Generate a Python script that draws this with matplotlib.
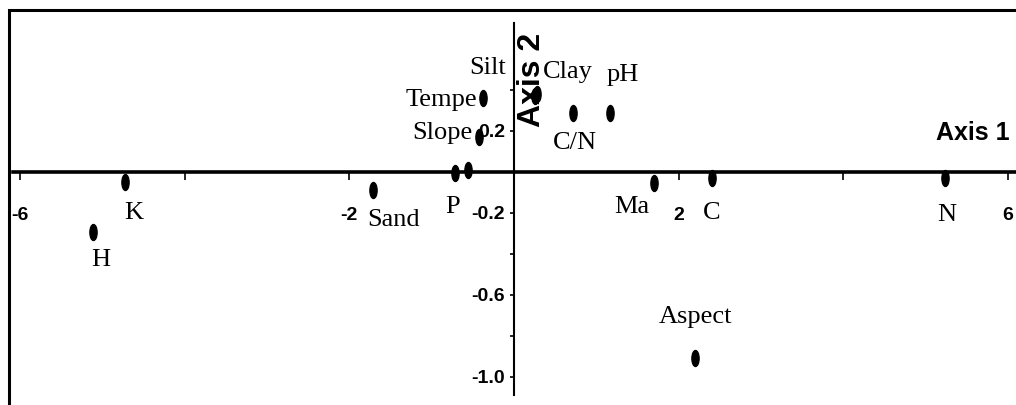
import numpy as np
import matplotlib.pyplot as plt
from matplotlib.path import Path
from matplotlib.transforms import Affine2D
from matplotlib.patches import Rectangle

plt.rcParams['axes.unicode_minus'] = False

# ordination scores
names = ['H', 'K', 'Sand', 'P', '', 'Slope', 'Tempe', 'Silt', 'Clay',
         'C/N', 'pH', 'Ma', 'C', 'N', 'Aspect']
axis1 = [-5.11, -4.72, -1.71, -0.72, -0.56, -0.43, -0.38, 0.26, 0.28,
         0.72, 1.17, 1.70, 2.40, 5.24, 2.20]
axis2 = [-0.295, -0.051, -0.09, -0.007, 0.006, 0.17, 0.36, 0.37, 0.38,
         0.285, 0.285, -0.056, -0.03, -0.03, -0.91]

xtick_major = [-6, -2, 2, 6]
xtick_labels = ['-6', '-2', '2', '6']
xtick_minor = [-4, 4]
ytick_major = [0.2, -0.2, -0.6, -1.0]
ytick_labels = ['0.2', '-0.2', '-0.6', '-1.0']
ytick_minor = [0.4, -0.4, -0.8]

# label placement (pixels from the dot, alignment)
label_pos = {
    'H': (7, -28, 'center'), 'K': (8, -31, 'center'),
    'Sand': (20, -30, 'center'), 'P': (-2, -34, 'center'),
    'Slope': (-6, 4, 'right'), 'Tempe': (-6, -2, 'right'),
    'Silt': (-29, 28, 'right'), 'Clay': (6, 22, 'left'),
    'C/N': (2, -30, 'center'), 'pH': (12, 38, 'center'),
    'Ma': (-5, -24, 'right'), 'C': (0, -35, 'center'),
    'N': (1, -37, 'center'), 'Aspect': (0, 41, 'center'),
}

serif = ['Liberation Serif', 'DejaVu Serif']
narrow = ['Liberation Sans Narrow', 'Liberation Sans', 'DejaVu Sans']

fig = plt.figure(figsize=(10.16, 4.05), dpi=100)
ax = fig.add_axes([9 / 1016, -25 / 405, 1031 / 1016, 420 / 405])
ax.set_xlim(-6.134, 6.389)
ax.set_ylim(-1.261, 0.788)

# dots are squashed ellipses like in the source
dot = Affine2D().scale(0.45, 1.0).transform_path(Path.unit_circle())
ax.plot(axis1, axis2, linestyle='none', marker=dot, markersize=11.5,
        color='black', zorder=3)

for name, x, y in zip(names, axis1, axis2):
    if name not in label_pos:
        continue
    dx, dy, ha = label_pos[name]
    ax.annotate(name, (x, y), xytext=(dx, dy), textcoords='offset pixels',
                ha=ha, va='center', fontsize=19, family=serif, zorder=4)

# crossing axes
for side in ['top', 'right']:
    ax.spines[side].set_visible(False)
ax.spines['left'].set_position(('data', 0))
ax.spines['bottom'].set_position(('data', 0))
ax.spines['left'].set_bounds(-1.09, 0.724)
ax.spines['bottom'].set_bounds(-6.085, 6.389)
ax.spines['bottom'].set_linewidth(2.6)
ax.spines['left'].set_linewidth(1.5)

ax.set_xticks(xtick_major)
ax.set_xticklabels(xtick_labels)
ax.set_xticks(xtick_minor, minor=True)
ax.set_yticks(ytick_major)
ax.set_yticklabels(ytick_labels)
ax.set_yticks(ytick_minor, minor=True)
ax.tick_params(axis='x', which='both', direction='out', length=5.8, width=1.2, pad=20)
ax.tick_params(axis='y', which='both', direction='out', length=3, width=1.2, pad=3.5)
for lab in ax.get_xticklabels() + ax.get_yticklabels():
    lab.set_family(narrow)
    lab.set_fontweight('bold')
    lab.set_fontsize(14)

# axis names, kept inside the picture
fig.text(1010 / 1016, 1 - 133 / 405, 'Axis 1', ha='right', va='center',
         fontsize=18, fontweight='bold', family=narrow)
ax.text(0.22, 0.446, 'Axis 2', ha='center', va='center', rotation=90,
        fontsize=23, fontweight='bold', family=narrow, zorder=5)

# outer frame of the plot window
ax.add_patch(Rectangle((0, 0), 1, 1, transform=ax.transAxes, fill=False,
                       lw=2.2, edgecolor='black', clip_on=False))

fig.savefig('out.png', dpi=100)
